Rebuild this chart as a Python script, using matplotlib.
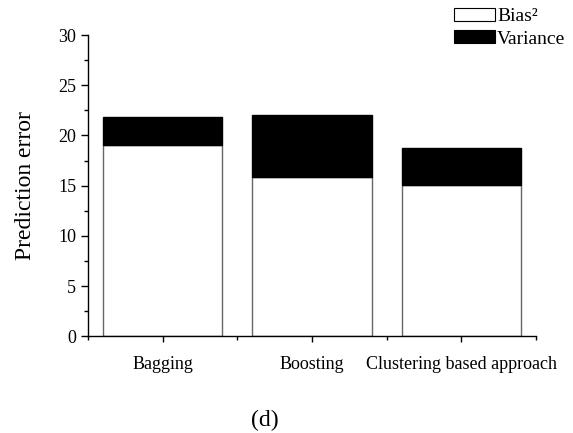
import matplotlib
matplotlib.use('Agg')
import matplotlib.pyplot as plt
from matplotlib.patches import Patch
from matplotlib.ticker import MultipleLocator

categories = ['Bagging', 'Boosting', 'Clustering based approach']
bias_sq = [19.0, 15.9, 15.1]
variance = [2.85, 6.1, 3.7]

plt.rcParams['font.family'] = ['Liberation Serif', 'DejaVu Serif']

fig = plt.figure(figsize=(5.73, 4.33), dpi=100)
ax = fig.add_axes([0.1536, 0.2235, 0.7818, 0.6955])

x = list(range(len(categories)))
ax.bar(x, bias_sq, width=0.8, color='white', edgecolor='#666666', linewidth=1.0)
ax.bar(x, variance, bottom=bias_sq, width=0.8, color='black', edgecolor='black', linewidth=1.0)

ax.set_xlim(-0.5, 2.5)
ax.set_ylim(0, 30)
ax.set_xticks(x)
ax.set_xticklabels(categories)
ax.xaxis.set_minor_locator(MultipleLocator(1.0, offset=0.5))
ax.yaxis.set_major_locator(MultipleLocator(5))
ax.yaxis.set_minor_locator(MultipleLocator(2.5))

for side in ['top', 'right']:
    ax.spines[side].set_visible(False)
for side in ['left', 'bottom']:
    ax.spines[side].set_linewidth(1.0)

ax.tick_params(axis='y', which='major', length=5, width=1.0, labelsize=13, pad=3.5)
ax.tick_params(axis='y', which='minor', length=3, width=1.0)
ax.tick_params(axis='x', which='major', length=4, width=1.0, labelsize=13, pad=10)
ax.tick_params(axis='x', which='minor', length=3, width=1.0)

ax.set_ylabel('Prediction error', fontsize=17, labelpad=16)

fig.text(0.4625, 0.03, '(d)', fontsize=17, ha='center', va='center')

handles = [Patch(facecolor='white', edgecolor='black', linewidth=0.8, label='Bias²'),
           Patch(facecolor='black', edgecolor='black', linewidth=0.8, label='Variance')]
fig.legend(handles=handles, loc='upper right', bbox_to_anchor=(1.0, 1.0), frameon=False,
           fontsize=14, handlelength=2.1, handleheight=0.67, handletextpad=0.12,
           labelspacing=0.25, borderpad=0.4, borderaxespad=0.0)

fig.savefig('out.png', dpi=100)
